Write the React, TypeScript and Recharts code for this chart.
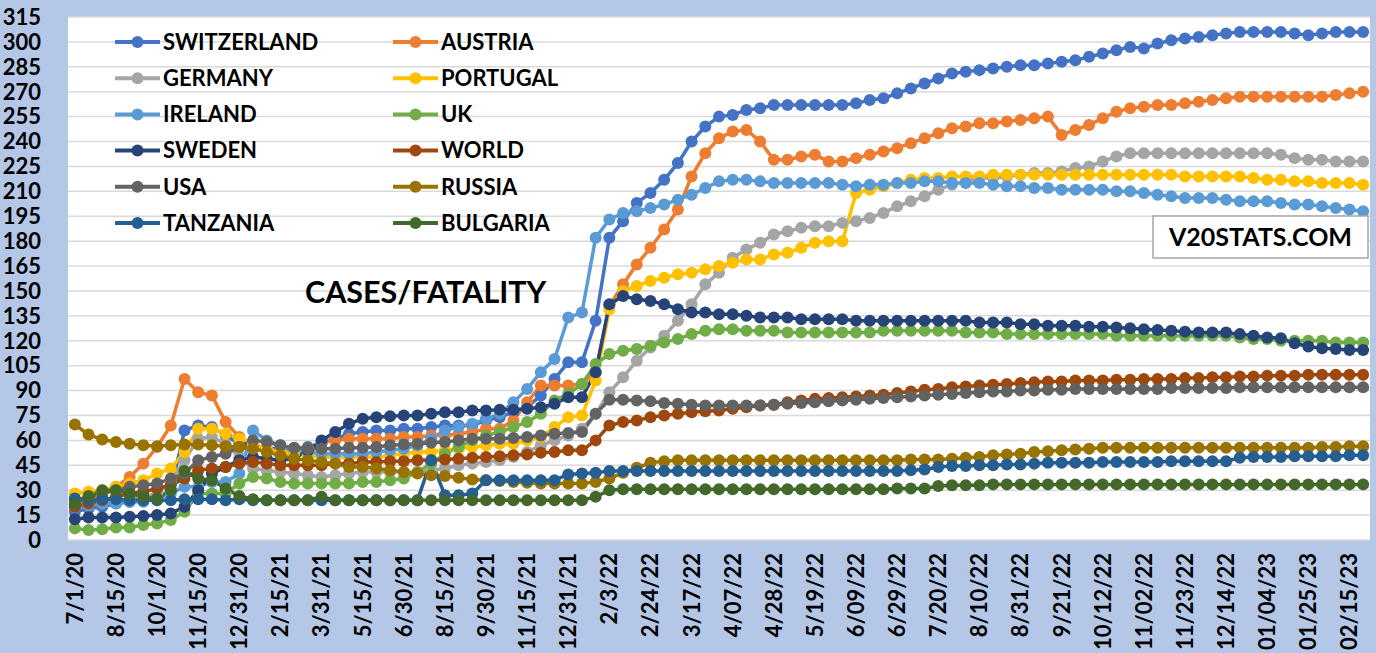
import React from 'react';
import { LineChart, Line, XAxis, YAxis, CartesianGrid, Legend } from 'recharts';

const DATES = [
  '7/1/20', '7/15/20', '7/31/20', '8/15/20', '8/31/20', '9/15/20', '10/1/20', '10/15/20', '10/31/20', '11/15/20',
  '11/30/20', '12/15/20', '12/31/20', '1/15/21', '1/31/21', '2/15/21', '2/28/21', '3/15/21', '3/31/21', '4/15/21',
  '4/30/21', '5/15/21', '5/31/21', '6/15/21', '6/30/21', '7/15/21', '7/31/21', '8/15/21', '8/31/21', '9/15/21',
  '9/30/21', '10/15/21', '10/31/21', '11/15/21', '11/30/21', '12/15/21', '12/31/21', '1/13/22', '1/27/22', '2/3/22',
  '2/10/22', '2/17/22', '2/24/22', '3/03/22', '3/10/22', '3/17/22', '3/24/22', '3/31/22', '4/07/22', '4/14/22',
  '4/21/22', '4/28/22', '5/05/22', '5/12/22', '5/19/22', '5/26/22', '6/02/22', '6/09/22', '6/16/22', '6/22/22',
  '6/29/22', '7/06/22', '7/13/22', '7/20/22', '7/27/22', '8/03/22', '8/10/22', '8/17/22', '8/24/22', '8/31/22',
  '9/07/22', '9/14/22', '9/21/22', '9/28/22', '10/05/22', '10/12/22', '10/19/22', '10/26/22', '11/02/22', '11/09/22',
  '11/16/22', '11/23/22', '11/30/22', '12/07/22', '12/14/22', '12/21/22', '12/28/22', '01/04/23', '01/11/23', '01/18/23',
  '01/25/23', '02/01/23', '02/08/23', '02/15/23', '02/22/23',
];

const SWITZERLAND = [
  17, 19, 20, 22, 23, 24, 25, 30, 66, 69, 68, 63, 58,
  57, 55, 55, 55, 56, 58, 61, 64, 65, 66, 66, 67,
  67, 68, 69, 69, 69, 72, 74, 77, 80, 87, 97, 107,
  107, 132, 182, 192, 203, 209, 217, 227, 240,
  249, 255, 256, 259, 260, 262, 262, 262, 262, 262, 262, 263, 265, 266, 269,
  272, 275, 278, 281, 282, 283, 284, 285, 286, 286, 287, 288, 289, 291, 293, 295,
  297, 296, 299, 301, 302, 303, 304, 305, 306, 306, 306, 306, 305, 304, 305, 306, 306, 306,
];
const AUSTRIA = [
  22, 24, 27, 32, 38, 46, 56, 69, 97, 89, 87, 71, 62,
  57, 55, 53, 52, 55, 59, 60, 61, 61, 61, 61, 62,
  62, 63, 63, 64, 65, 67, 67, 72, 83, 93, 93, 93,
  94, 101, 141, 154, 166, 176, 187, 199, 219,
  233, 242, 246, 247, 240, 229, 229, 231, 232, 228, 228, 230, 232, 234, 236,
  239, 242, 245, 248, 249, 251, 251, 252, 253, 254, 255, 244, 247, 250, 254, 258,
  260, 261, 262, 262, 263, 264, 265, 266, 267, 267, 267, 267, 267, 267, 267, 268, 269, 270,
];
const GERMANY = [
  20, 21, 22, 24, 25, 26, 28, 35, 48, 61, 62, 58, 50,
  43, 42, 41, 40, 39, 38, 39, 40, 41, 41, 41, 41,
  41, 42, 43, 45, 46, 47, 48, 50, 53, 57, 60, 63,
  67, 76, 89, 98, 108, 116, 123, 132, 142,
  154, 161, 170, 175, 179, 184, 186, 188, 189, 189, 191, 192, 194, 197, 201,
  204, 207, 211, 214, 216, 218, 218, 219, 220, 221, 221, 222, 224, 225, 228, 231,
  233, 233, 233, 233, 233, 233, 233, 233, 233, 233, 233, 232, 230, 229, 229, 228, 228, 228,
];
const PORTUGAL = [
  28, 29, 30, 32, 34, 36, 40, 43, 53, 67, 67, 64, 61,
  58, 55, 53, 52, 51, 50, 50, 50, 50, 50, 51, 52,
  53, 53, 54, 55, 56, 57, 58, 58, 60, 62, 68, 74,
  75, 96, 139, 150, 153, 156, 158, 160, 161,
  163, 165, 167, 169, 169, 172, 173, 176, 179, 180, 180, 209, 211, 213, 215,
  217, 218, 218, 219, 219, 219, 220, 220, 220, 220, 220, 220, 220, 220, 220, 220,
  220, 220, 220, 220, 219, 219, 219, 219, 219, 218, 217, 217, 216, 216, 215, 215, 215, 214,
];
const IRELAND = [
  20, 21, 22, 22, 23, 23, 25, 28, 32, 32, 35, 35, 40,
  66, 60, 57, 55, 53, 52, 52, 52, 52, 53, 54, 55,
  57, 61, 66, 68, 70, 73, 76, 83, 91, 101, 109, 134,
  137, 182, 193, 197, 198, 200, 202, 205, 208,
  212, 216, 217, 217, 216, 215, 215, 215, 215, 215, 214, 213, 214, 214, 215,
  215, 216, 216, 215, 215, 215, 214, 213, 213, 212, 212, 211, 211, 211, 211, 210,
  210, 209, 208, 207, 206, 206, 206, 205, 204, 204, 204, 203, 202, 202, 201, 200, 199, 198,
];
const UK = [
  7, 6, 6.5, 7.5, 7.5, 9, 10, 12, 17, 28, 28, 28, 34,
  38, 37, 35, 34, 34, 34, 34, 34, 35, 35, 36, 37,
  41, 46, 52, 56, 60, 63, 65, 68, 71, 76, 84, 88,
  94, 106, 112, 114, 115, 117, 119, 121, 124,
  126, 127, 127, 126, 126, 126, 125, 125, 125, 125, 125, 125, 125, 126, 126,
  126, 126, 126, 126, 125, 125, 125, 124, 124, 124, 124, 124, 124, 124, 124, 123,
  123, 123, 123, 123, 123, 123, 123, 123, 122, 121, 121, 120, 120, 120, 120, 119, 119, 119,
];
const SWEDEN = [
  12.5, 13.5, 13.5, 13.5, 14, 14.5, 15, 16, 20, 30, 40, 44, 48,
  50, 49, 48, 49, 54, 60, 65, 70, 73, 74, 74.5, 75,
  75, 76, 77, 77, 78, 78, 78.5, 78.5, 79, 80, 82, 86,
  86, 101, 142, 147, 145, 144, 142, 139, 137,
  137, 136, 136, 135, 134, 134, 134, 133, 133, 133, 133, 132, 132, 132, 132,
  132, 132, 132, 132, 132, 131, 131, 131, 130, 130, 129, 129, 129, 128.5, 128.5, 128,
  127.5, 127, 126.5, 126, 125.5, 125, 125, 125, 124, 123, 122, 121.5, 118.5, 116.5, 115.5, 115, 114.5, 114.5,
];
const WORLD = [
  20, 22, 24, 26, 28, 29, 31, 33, 37, 42, 43, 44, 46,
  47, 46, 45, 45, 45, 45, 46, 46, 47, 47, 47.5, 47.5,
  48, 48, 48.5, 49, 49.5, 50, 50.5, 51, 51.5, 52.5, 53, 54,
  54, 60, 69, 71, 72, 74, 75, 76, 77,
  77.5, 78, 79, 80, 81, 81.5, 83, 84, 85, 85.5, 86, 86.5, 87, 87.5, 88.5,
  89.5, 90.5, 91, 92, 92.5, 93, 93.5, 94, 94.5, 95, 95.5, 95.5, 96, 96, 96, 96.5,
  96.5, 97, 97, 97, 97.5, 97.5, 98, 98, 98.5, 98.5, 99, 99, 99, 99.5, 99.5, 99.5, 99.5, 99.5,
];
const USA = [
  24, 26, 28, 30, 32, 33, 34, 37, 40, 48, 50, 52, 56,
  60, 59, 57, 55.5, 55, 55, 55, 55.5, 55.5, 56, 57, 57.5,
  58, 58.5, 59, 60, 61, 61, 61, 61.5, 62, 63, 64, 64.5,
  65, 76, 84.5, 84.5, 84, 83.5, 82.5, 82, 81.5,
  81, 81, 81, 81, 81, 81.5, 82, 82.5, 83, 83.5, 84, 84.5, 85, 85.5, 86,
  86.5, 87, 87.5, 88, 88.5, 89, 89.5, 89.5, 90, 90, 90.5, 90.5, 91, 91, 91, 91,
  91, 91, 91, 91.5, 91.5, 91.5, 91.5, 91.5, 92, 92, 92, 92, 92, 92, 92, 92, 92, 92,
];
const RUSSIA = [
  69.5, 63.5, 60.5, 59, 58, 57, 56.5, 57, 57.5, 57.5, 57, 56.5, 56,
  55, 53, 51, 49, 48, 47, 46, 44, 44, 43, 42, 41,
  40, 39, 38.5, 37.5, 36.5, 36, 35.5, 35, 34.5, 34, 34, 34,
  34, 35, 37, 40.5, 43.5, 46.5, 47.5, 48, 48,
  48, 48, 48, 48, 48, 48, 48, 48, 48, 48, 48, 48, 48, 48, 48,
  48.5, 48.5, 48.5, 49, 49.5, 50, 51, 51.5, 52, 53, 53.5, 54, 54.5, 55, 55.5, 55.5,
  55.5, 55.5, 55.5, 55.5, 55.5, 55.5, 55.5, 55.5, 55.5, 55.5, 55.5, 55.5, 55.5, 55.5, 56, 56, 56.5, 56.5,
];
const TANZANIA = [
  25, 24, 24.5, 24.5, 24, 24, 24, 24, 24.5, 24.5, 24.5, 24, 24.5,
  24, 24, 24, 24, 24, 24, 24, 24, 24, 24, 24, 24,
  24, 48, 27, 27, 28, 36, 36, 36, 36, 36, 36, 39.5,
  40, 40.5, 41.5, 41.5, 41.5, 41.5, 41.5, 41.5, 41.5,
  41.5, 41.5, 41.5, 41.5, 41.5, 41.5, 41.5, 41.5, 41.5, 41.5, 41.5, 41.5, 41.5, 41.5, 41.5,
  42, 42.5, 44, 44.5, 44.5, 45, 45, 45.5, 45.5, 46, 46.5, 46.5, 46.5, 46.5, 47, 47,
  47, 47, 47, 47.5, 47.5, 47.5, 47.5, 47.5, 49.5, 50, 50, 50, 50.5, 50.5, 50.5, 50.5, 51, 51,
];
const BULGARIA = [
  21.5, 26.5, 30, 30, 28, 26, 25, 30, 41.5, 37, 36, 31, 26.5,
  24.5, 24, 24, 24, 24, 26, 24, 24, 24, 24, 24, 24,
  24, 24, 24, 24, 24, 24, 24, 24, 24, 24, 24, 24,
  24, 26, 30, 30.5, 30.5, 30.5, 30.5, 30.5, 30.5,
  30.5, 30.5, 30.5, 30.5, 30.5, 30.5, 30.5, 30.5, 30.5, 30.5, 30.5, 30.5, 30.5, 30.5, 31,
  31, 31, 32.5, 33, 33, 33, 33.5, 33.5, 33.5, 33.5, 33.5, 33.5, 33.5, 33.5, 33.5, 33.5,
  33.5, 33.5, 33.5, 33.5, 33.5, 33.5, 33.5, 33.5, 33.5, 33.5, 33.5, 33.5, 33.5, 33.5, 33.5, 33.5, 33.5, 33.5,
];

const SERIES_NAMES = ['SWITZERLAND', 'AUSTRIA', 'GERMANY', 'PORTUGAL', 'IRELAND', 'UK', 'SWEDEN', 'WORLD', 'USA', 'RUSSIA', 'TANZANIA', 'BULGARIA'];
const SERIES_VALUES = [SWITZERLAND, AUSTRIA, GERMANY, PORTUGAL, IRELAND, UK, SWEDEN, WORLD, USA, RUSSIA, TANZANIA, BULGARIA];
const SERIES_COLORS = ['#4472C4', '#ED7D31', '#A5A5A5', '#FFC000', '#5B9BD5', '#70AD47', '#264478', '#9E480E', '#636363', '#997300', '#255E91', '#43682B'];

const Y_TICKS = [0, 15, 30, 45, 60, 75, 90, 105, 120, 135, 150, 165, 180, 195, 210, 225, 240, 255, 270, 285, 300, 315];

const TITLE = 'CASES/FATALITY';
const WATERMARK = 'V20STATS.COM';

const data = DATES.map((d, i) => {
  const row: Record<string, any> = { date: d };
  SERIES_NAMES.forEach((n, k) => {
    row[n] = SERIES_VALUES[k][i];
  });
  return row;
});

const FONT = 'Lato, "Open Sans", sans-serif';

const XTick = (props: any) => {
  const { x, y, payload } = props;
  return (
    <g transform={`translate(${x},${y + 13})`}>
      <text
        transform="rotate(-90)"
        textAnchor="end"
        dy="0.36em"
        fill="#000"
        fontFamily={FONT}
        fontWeight={700}
        fontSize={22}
      >
        {payload.value}
      </text>
    </g>
  );
};

const LegendContent = () => {
  const fs = 22;
  return (
    <svg width={600} height={250} style={{ display: 'block' }}>
      {SERIES_NAMES.map((name, k) => {
        const row = Math.floor(k / 2);
        const col = k % 2;
        const x0 = col === 0 ? 115 : 393;
        const cy = 42 + row * 36.2;
        const color = SERIES_COLORS[k];
        return (
          <g key={name}>
            <line x1={x0} y1={cy} x2={x0 + 45} y2={cy} stroke={color} strokeWidth={4} />
            <circle cx={x0 + 22.5} cy={cy} r={6} fill={color} />
            <text
              x={x0 + 48}
              y={cy + 0.358 * fs}
              fill="#000"
              fontFamily={FONT}
              fontWeight={700}
              fontSize={fs}
            >
              {name}
            </text>
          </g>
        );
      })}
    </svg>
  );
};

export default function App() {
  return (
    <div
      style={{
        position: 'absolute',
        left: 0,
        top: 0,
        width: 1376,
        height: 653,
        background: '#B4C7E7',
        overflow: 'hidden',
      }}
    >
      <LineChart
        width={1376}
        height={653}
        data={data}
        margin={{ top: 17, right: 6, bottom: 0, left: 0 }}
      >
        <CartesianGrid vertical={false} stroke="#D9D9D9" strokeWidth={1.5} fill="#FFFFFF" fillOpacity={1} />
        <XAxis
          dataKey="date"
          interval={2}
          height={113}
          tickSize={0}
          tickMargin={0}
          axisLine={false}
          tickLine={false}
          padding={{ left: 6.85, right: 6.85 }}
          tick={<XTick />}
        />
        <YAxis
          type="number"
          domain={[0, 315]}
          ticks={Y_TICKS}
          interval={0}
          width={68}
          tickSize={0}
          tickMargin={27}
          axisLine={false}
          tickLine={false}
          tick={{ fill: '#000', fontSize: 22, fontWeight: 700, fontFamily: FONT }}
        />
        <Legend
          layout="horizontal"
          verticalAlign="middle"
          align="center"
          content={<LegendContent />}
          wrapperStyle={{ position: 'absolute', left: 0, top: 0, width: 600, height: 250 }}
        />
        {SERIES_NAMES.map((n, k) => (
          <Line
            key={n}
            type="linear"
            dataKey={n}
            name={n}
            stroke={SERIES_COLORS[k]}
            strokeWidth={3.5}
            dot={{ r: 6, fill: SERIES_COLORS[k], stroke: SERIES_COLORS[k], strokeWidth: 0 }}
            activeDot={false}
            isAnimationActive={false}
          />
        ))}
      </LineChart>
      <svg
        width={1376}
        height={653}
        style={{ position: 'absolute', left: 0, top: 0, pointerEvents: 'none' }}
      >
        <text x={305} y={292 + 0.358 * 30.5} fill="#000" fontFamily={FONT} fontWeight={700} fontSize={30.5}>
          {TITLE}
        </text>
        <rect x={1153} y={216} width={215} height={42} fill="#FFFFFF" stroke="#A6A6A6" strokeWidth={1.5} />
        <text
          x={1260.5}
          y={237 + 0.358 * 25}
          textAnchor="middle"
          fill="#000"
          fontFamily={FONT}
          fontWeight={700}
          fontSize={25}
        >
          {WATERMARK}
        </text>
      </svg>
    </div>
  );
}
